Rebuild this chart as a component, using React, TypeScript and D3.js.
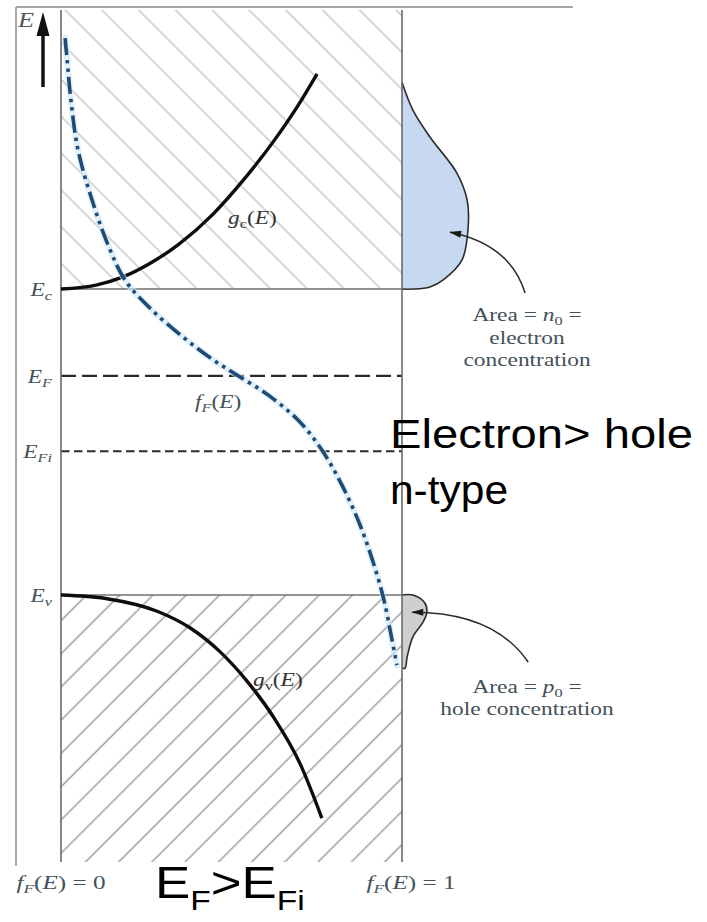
import React from "react";
import * as d3 from "d3";

const W = 707;
const H = 922;

// Energy scale (normalized: E_v = 0, E_c = 1)
const energyDomain = [-0.8725, 1.912];
const levelNames = ["c", "F", "Fi", "v"];
const levelEnergies = [1.0, 0.716, 0.47, 0.0];

// Conduction band density of states g_c(E)
const gcEnergy = [1.0, 1.013, 1.039, 1.082, 1.147, 1.245, 1.359, 1.49, 1.621, 1.703];
const gcValue = [0, 0.103, 0.18, 0.258, 0.346, 0.446, 0.537, 0.628, 0.707, 0.751];

// Valence band density of states g_v(E)
const gvEnergy = [0, -0.012, -0.053, -0.107, -0.185, -0.282, -0.397, -0.551, -0.729];
const gvValue = [0, 0.135, 0.282, 0.378, 0.466, 0.546, 0.622, 0.701, 0.765];

// Fermi-Dirac function f_F(E)
const fEnergy = [1.82, 1.748, 1.618, 1.454, 1.291, 1.144, 1.029, 0.931, 0.843, 0.771, 0.719, 0.654, 0.572, 0.474, 0.359, 0.229, 0.098, -0.016, -0.131, -0.229];
const fValue = [0.012, 0.018, 0.029, 0.05, 0.091, 0.138, 0.188, 0.267, 0.358, 0.443, 0.516, 0.607, 0.695, 0.765, 0.824, 0.877, 0.918, 0.947, 0.968, 0.985];

// Electron distribution n(E)
const nEnergy = [1.676, 1.585, 1.497, 1.379, 1.291, 1.203, 1.095, 1.029, 1.007, 1.0, 1.0];
const nValue = [0, 0.032, 0.082, 0.161, 0.191, 0.194, 0.176, 0.12, 0.082, 0.032, 0];

// Hole distribution p(E)
const pEnergy = [0, 0, -0.026, -0.056, -0.088, -0.137, -0.203, -0.239, -0.239];
const pValue = [0, 0.032, 0.067, 0.073, 0.062, 0.032, 0.015, 0.009, 0];

const SERIF = "'Liberation Serif', 'Times New Roman', serif";
const SANS = "'Liberation Sans', Arial, sans-serif";
const SX = 1.3;
const LABEL = "#435159";

export default function App() {
  const yE = d3.scaleLinear().domain(energyDomain).range([862, 10]);
  const xG = d3.scaleLinear().domain([0, 1]).range([61, 402]);
  const xR = d3.scaleLinear().domain([0, 1]).range([402, 743]);

  const idx = (a: number[]) => a.map((_, i) => i);

  const gcPath = d3
    .line<number>()
    .x((i) => xG(gcValue[i]))
    .y((i) => yE(gcEnergy[i]))
    .curve(d3.curveMonotoneX)(idx(gcEnergy)) as string;
  const gvPath = d3
    .line<number>()
    .x((i) => xG(gvValue[i]))
    .y((i) => yE(gvEnergy[i]))
    .curve(d3.curveMonotoneX)(idx(gvEnergy)) as string;
  const fPath = d3
    .line<number>()
    .x((i) => xG(fValue[i]))
    .y((i) => yE(fEnergy[i]))
    .curve(d3.curveCatmullRom)(idx(fEnergy)) as string;
  const nPath = d3
    .line<number>()
    .x((i) => xR(nValue[i]))
    .y((i) => yE(nEnergy[i]))
    .curve(d3.curveCatmullRom)(idx(nEnergy)) as string;
  const pPath = d3
    .line<number>()
    .x((i) => xR(pValue[i]))
    .y((i) => yE(pEnergy[i]))
    .curve(d3.curveCatmullRom)(idx(pEnergy)) as string;

  const x0 = xG(0);
  const x1 = xG(1);
  const yTop = yE(energyDomain[1]);
  const yBot = yE(energyDomain[0]);
  const yC = yE(levelEnergies[0]);
  const yV = yE(levelEnergies[3]);

  const arrowN = `M${xR(0.361)},${yE(0.987)} C${xR(0.331)},${yE(1.095)} ${xR(0.258)},${yE(1.16)} ${xR(0.141)},${yE(1.186)}`;
  const arrowP = `M${xR(0.37)},${yE(-0.219)} C${xR(0.302)},${yE(-0.108)} ${xR(0.185)},${yE(-0.056)} ${xR(0.03)},${yE(-0.056)}`;

  const st = (x: number, y: number, s = SX) => `translate(${x},${y}) scale(${s},1)`;

  const levelStyle: Record<string, any> = {
    c: { stroke: "#707070", strokeWidth: 1.5 },
    F: { stroke: "#2b2b2b", strokeWidth: 2.3, strokeDasharray: "15 6" },
    Fi: { stroke: "#2b2b2b", strokeWidth: 2.1, strokeDasharray: "8.5 4.5" },
    v: { stroke: "#707070", strokeWidth: 1.5 },
  };

  return (
    <div style={{ position: "absolute", left: 0, top: 0, width: W, height: H, background: "#fff" }}>
      <svg width={W} height={H} viewBox={`0 0 ${W} ${H}`} style={{ display: "block" }}>
        <defs>
          <pattern id="hatchTop" patternUnits="userSpaceOnUse" width={26} height={26} patternTransform="rotate(-45)">
            <line x1={13} y1={0} x2={13} y2={26} stroke="#d6d6d6" strokeWidth={2} />
          </pattern>
          <pattern id="hatchBot" patternUnits="userSpaceOnUse" width={23.5} height={23.5} patternTransform="rotate(45)">
            <line x1={12} y1={0} x2={12} y2={23.5} stroke="#a3a3a3" strokeWidth={1.6} />
          </pattern>
          <marker id="arr" viewBox="0 0 12 8" refX={11} refY={4} markerWidth={13} markerHeight={8} orient="auto" markerUnits="userSpaceOnUse">
            <path d="M0,0.5 L12,4 L0,7.5 Z" fill="#1a1a1a" />
          </marker>
        </defs>

        {/* outer frame */}
        <line x1={16} y1={7} x2={573} y2={7} stroke="#8a8a8a" strokeWidth={1.5} />
        <line x1={16} y1={7} x2={16} y2={866} stroke="#8a8a8a" strokeWidth={1.5} />

        {/* hatched band regions */}
        <rect x={x0} y={yTop} width={x1 - x0} height={yC - yTop} fill="url(#hatchTop)" />
        <rect x={x0} y={yV} width={x1 - x0} height={yBot - yV} fill="url(#hatchBot)" />

        {/* carrier areas */}
        <path d={nPath + "Z"} fill="#c6d9f0" stroke="none" />
        <path d={nPath} fill="none" stroke="#2c2c2c" strokeWidth={1.6} />
        <path d={pPath + "Z"} fill="#cfcfcf" stroke="none" />
        <path d={pPath} fill="none" stroke="#2c2c2c" strokeWidth={1.6} />

        {/* energy levels */}
        {levelNames.map((n, i) => (
          <line key={n} x1={x0} x2={x1} y1={yE(levelEnergies[i])} y2={yE(levelEnergies[i])} {...levelStyle[n]} />
        ))}

        {/* vertical axes */}
        <line x1={x0} y1={yTop} x2={x0} y2={yBot} stroke="#6a6a6a" strokeWidth={1.6} />
        <line x1={x1} y1={yTop} x2={x1} y2={yBot} stroke="#6a6a6a" strokeWidth={1.6} />

        {/* density of states */}
        <path d={gcPath} fill="none" stroke="#0d0d0d" strokeWidth={3.4} />
        <path d={gvPath} fill="none" stroke="#0d0d0d" strokeWidth={3.4} />

        {/* Fermi function */}
        <path d={fPath} fill="none" stroke="#cfe6f8" strokeWidth={6.5} strokeLinecap="round" opacity={0.6} />
        <path d={fPath} fill="none" stroke="#1f4c74" strokeWidth={3.6} strokeDasharray="17 5 3.5 5 3.5 5" />

        {/* arrows */}
        <path d={arrowN} fill="none" stroke="#2a2a2a" strokeWidth={1.5} markerEnd="url(#arr)" />
        <path d={arrowP} fill="none" stroke="#2a2a2a" strokeWidth={1.5} markerEnd="url(#arr)" />

        {/* E axis arrow */}
        <line x1={43} y1={87} x2={43} y2={30} stroke="#111" strokeWidth={3.5} />
        <path d="M43,12 L36.5,36 L49.5,36 Z" fill="#111" />
        <text transform={st(18, 27, 1.25)} fontFamily={SERIF} fontStyle="italic" fontSize={21} fill="#555">E</text>

        {/* level labels */}
        {levelNames.map((n, i) => (
          <text key={n} transform={st(52, yE(levelEnergies[i]) + 7)} textAnchor="end" fontFamily={SERIF} fontStyle="italic" fontSize={18} fill={LABEL}>
            E<tspan fontSize={12.5} dy={4}>{n}</tspan>
          </text>
        ))}

        {/* curve labels */}
        <text transform={st(228, 224)} fontFamily={SERIF} fontSize={18} fill="#333">
          <tspan fontStyle="italic">g</tspan><tspan fontSize={12.5} dy={4}>c</tspan><tspan dy={-4}>(</tspan><tspan fontStyle="italic">E</tspan>)
        </text>
        <text transform={st(195, 408)} fontFamily={SERIF} fontSize={18} fill={LABEL}>
          <tspan fontStyle="italic">f</tspan><tspan fontSize={12.5} dy={4} fontStyle="italic">F</tspan><tspan dy={-4}>(</tspan><tspan fontStyle="italic">E</tspan>)
        </text>
        <text transform={st(253, 686)} fontFamily={SERIF} fontSize={18} fill="#333">
          <tspan fontStyle="italic">g</tspan><tspan fontSize={12.5} dy={4}>v</tspan><tspan dy={-4}>(</tspan><tspan fontStyle="italic">E</tspan>)
        </text>

        {/* area annotations */}
        <g fontFamily={SERIF} fontSize={18} fill={LABEL} textAnchor="middle">
          <text transform={st(527, 321)}>
            Area = <tspan fontStyle="italic">n</tspan><tspan fontSize={12.5} dy={4}>0</tspan><tspan dy={-4}> =</tspan>
          </text>
          <text transform={st(527, 344)}>electron</text>
          <text transform={st(527, 366)}>concentration</text>
          <text transform={st(527, 693)}>
            Area = <tspan fontStyle="italic">p</tspan><tspan fontSize={12.5} dy={4}>0</tspan><tspan dy={-4}> =</tspan>
          </text>
          <text transform={st(527, 715)}>hole concentration</text>
        </g>

        {/* bottom axis labels */}
        <g fontFamily={SERIF} fontSize={18} fill={LABEL} textAnchor="middle">
          <text transform={st(61, 889, 1.4)}>
            <tspan fontStyle="italic">f</tspan><tspan fontSize={12.5} dy={4} fontStyle="italic">F</tspan><tspan dy={-4}>(</tspan><tspan fontStyle="italic">E</tspan>) = 0
          </text>
          <text transform={st(411, 889, 1.4)}>
            <tspan fontStyle="italic">f</tspan><tspan fontSize={12.5} dy={4} fontStyle="italic">F</tspan><tspan dy={-4}>(</tspan><tspan fontStyle="italic">E</tspan>) = 1
          </text>
        </g>

        {/* slide annotations */}
        <text x={390} y={448} fontFamily={SANS} fontSize={40} fill="#000" textLength={303} lengthAdjust="spacingAndGlyphs">Electron&gt; hole</text>
        <text x={390} y={504} fontFamily={SANS} fontSize={40} fill="#000" textLength={118} lengthAdjust="spacingAndGlyphs">n-type</text>
        <text transform={st(155, 898, 1.2)} fontFamily={SANS} fontSize={44} fill="#000">
          E<tspan fontSize={28} dy={12}>F</tspan><tspan dy={-12}>&gt;E</tspan><tspan fontSize={28} dy={12}>Fi</tspan>
        </text>
      </svg>
    </div>
  );
}
